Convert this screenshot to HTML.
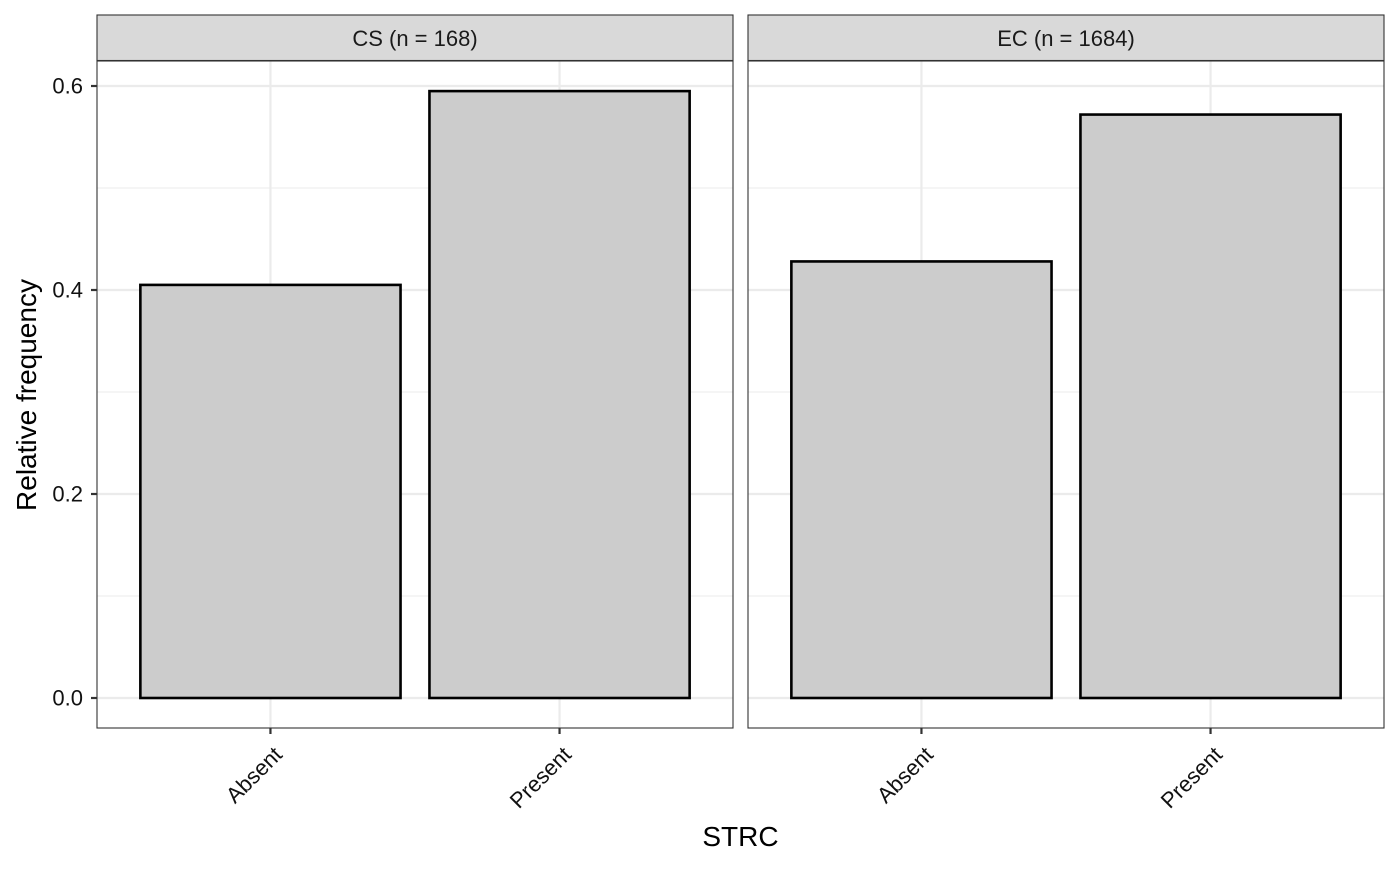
<!DOCTYPE html>
<html><head><meta charset="utf-8"><style>
body{margin:0;background:#fff;}
svg text{font-family:"Liberation Sans",Arial,sans-serif;}
</style></head><body>
<svg id="chart" width="1400" height="866" xmlns="http://www.w3.org/2000/svg"></svg>
<script>
const panels = ["CS (n = 168)", "EC (n = 1684)"];
const categories = ["Absent", "Present"];
const csValues = [0.405, 0.595];
const ecValues = [0.428, 0.572];
const yTicks = [0, 0.2, 0.4, 0.6];
const yTickLabels = ["0.0", "0.2", "0.4", "0.6"];
const yMinor = [0.1, 0.3, 0.5];

const svg = document.getElementById('chart');
const NS = 'http://www.w3.org/2000/svg';
function mk(tag, attrs, parent){const e=document.createElementNS(NS,tag);for(const k in attrs)e.setAttribute(k,attrs[k]);(parent||svg).appendChild(e);return e;}
const panelX = [[97,733],[748,1384]];
const plotTop = 61, plotBottom = 728;
function y(v){return 698 - v*1020;}
const allVals=[csValues,ecValues];
panels.forEach((title,pi)=>{
  const [x0,x1]=panelX[pi];
  const step=(x1-x0)/2.2;
  const xs=i=>x0+step*(0.6+i);
  const g=mk('g',{});
  
  
  const st=mk('rect',{x:x0,y:15,width:x1-x0,height:45.5,fill:'#d9d9d9',stroke:'#333','stroke-width':1.1},g);
  
  
  const stt=mk('text',{x:(x0+x1)/2,y:46,'text-anchor':'middle','font-size':22,fill:'#1a1a1a'},g);
  stt.textContent=title;
  
  
  yMinor.forEach(v=>mk('line',{x1:x0,x2:x1,y1:y(v),y2:y(v),stroke:'#ebebeb','stroke-width':1.1},g));
  yTicks.forEach(v=>mk('line',{x1:x0,x2:x1,y1:y(v),y2:y(v),stroke:'#ebebeb','stroke-width':2.2},g));
  categories.forEach((c,i)=>mk('line',{x1:xs(i),x2:xs(i),y1:plotTop,y2:plotBottom,stroke:'#ebebeb','stroke-width':2.2},g));
  allVals[pi].forEach((v,i)=>{
    const bw=step*0.9;
    const b=mk('rect',{x:xs(i)-bw/2,y:y(v),width:bw,height:y(0)-y(v),fill:'#cccccc',stroke:'#000','stroke-width':2.6},g);
    
    
  });
  mk('rect',{x:x0,y:plotTop,width:x1-x0,height:plotBottom-plotTop,fill:'none',stroke:'#333','stroke-width':1.1},g);
  categories.forEach((c,i)=>{
    mk('line',{x1:xs(i),x2:xs(i),y1:plotBottom,y2:plotBottom+6,stroke:'#333','stroke-width':2.2},g);
    const t=mk('text',{x:0,y:0,'text-anchor':'end','font-size':22,fill:'#111',transform:`translate(${xs(i)+13},${plotBottom+28}) rotate(-45)`},g);
    t.textContent=c;
    
    
  });
});
yTicks.forEach((v,i)=>{
  mk('line',{x1:91,x2:97,y1:y(v),y2:y(v),stroke:'#333','stroke-width':2.2});
  const t=mk('text',{x:83,y:y(v)+7.5,'text-anchor':'end','font-size':22,fill:'#111'});
  t.textContent=yTickLabels[i];
  
  
});
const yt=mk('text',{x:0,y:0,'text-anchor':'middle','font-size':28,fill:'#000',transform:'translate(36,395) rotate(-90)'});
yt.textContent='Relative frequency';


const xt=mk('text',{x:740.5,y:846,'text-anchor':'middle','font-size':28,fill:'#000'});
xt.textContent='STRC';


</script>
</body></html>
